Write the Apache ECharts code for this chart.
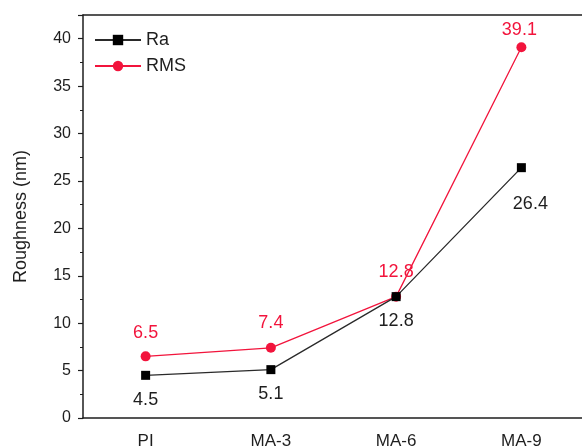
<!DOCTYPE html>
<html>
<head>
<meta charset="utf-8">
<script src="https://cdn.jsdelivr.net/npm/echarts@6/dist/echarts.min.js"></script>
<style>
  html, body { margin: 0; padding: 0; background: #fff; }
  #chart { width: 582px; height: 446px; }
</style>
</head>
<body>
<div id="chart"></div>
<script>
// Surface roughness of PI and MA films
const categories = ['PI', 'MA-3', 'MA-6', 'MA-9'];
const raValues = [4.5, 5.1, 12.8, 26.4];
const rmsValues = [6.5, 7.4, 12.8, 39.1];
const yTicks = { min: 0, max: 42.5, interval: 5 };

// per-point nudges for the value labels
const raLabelOffsets = [[0, 0], [0, 0], [0, 0], [9, 12]];
const rmsLabelOffsets = [[0, 2], [0, 0], [0, 0], [-2, 8]];

const FONT = "'Liberation Sans', Arial, sans-serif";
const RED = '#f2143c';
const INK = '#1e1e1e';

function withOffsets(values, offsets) {
  return values.map((v, i) => ({ value: v, label: { offset: offsets[i] } }));
}

const chart = echarts.init(document.getElementById('chart'), null, { renderer: 'canvas' });

chart.setOption({
  backgroundColor: '#ffffff',
  animation: false,
  textStyle: { fontFamily: FONT },
  grid: {
    left: 83, top: 15, right: -2, bottom: 28,
    containLabel: false, outerBoundsMode: 'none'
  },
  legend: {
    left: 89, top: 26, orient: 'vertical', itemGap: 8,
    itemWidth: 46, itemHeight: 13,
    textStyle: { fontFamily: FONT, fontSize: 18, color: INK },
    data: ['Ra', 'RMS']
  },
  xAxis: [{
    type: 'category',
    data: categories,
    boundaryGap: true,
    axisLine: { lineStyle: { color: INK, width: 1.5 } },
    axisTick: { alignWithLabel: true, length: 5, lineStyle: { color: INK, width: 1.2 } },
    axisLabel: { fontFamily: FONT, fontSize: 17, color: INK, margin: 15 },
    splitLine: { show: false }
  }, {
    type: 'category',
    position: 'top',
    data: categories,
    axisLine: { onZero: false, lineStyle: { color: INK, width: 1.5 } },
    axisTick: { show: false },
    axisLabel: { show: false }
  }],
  yAxis: {
    type: 'value',
    min: yTicks.min, max: yTicks.max, interval: yTicks.interval,
    name: 'Roughness (nm)',
    nameLocation: 'middle',
    nameGap: 53,
    nameTextStyle: { fontFamily: FONT, fontSize: 18, color: INK },
    axisLine: { show: true, lineStyle: { color: INK, width: 1.5 } },
    axisTick: { show: true, length: 5, lineStyle: { color: INK, width: 1.2 } },
    minorTick: { show: true, splitNumber: 2, length: 3, lineStyle: { color: INK, width: 1 } },
    axisLabel: { fontFamily: FONT, fontSize: 16, color: INK, margin: 12, showMaxLabel: false },
    splitLine: { show: false }
  },
  series: [{
    name: 'Ra',
    type: 'line',
    data: withOffsets(raValues, raLabelOffsets),
    symbol: 'rect', symbolSize: 9,
    itemStyle: { color: '#000' },
    lineStyle: { color: '#2a2a2a', width: 1.3 },
    label: {
      show: true, position: 'bottom', distance: 11,
      fontFamily: FONT, fontSize: 18, color: INK
    },
    z: 3
  }, {
    name: 'RMS',
    type: 'line',
    data: withOffsets(rmsValues, rmsLabelOffsets),
    symbol: 'circle', symbolSize: 10,
    itemStyle: { color: RED },
    lineStyle: { color: RED, width: 1.3 },
    label: {
      show: true, position: 'top', distance: 11,
      fontFamily: FONT, fontSize: 18, color: RED
    },
    z: 2
  }]
});
</script>
</body>
</html>
